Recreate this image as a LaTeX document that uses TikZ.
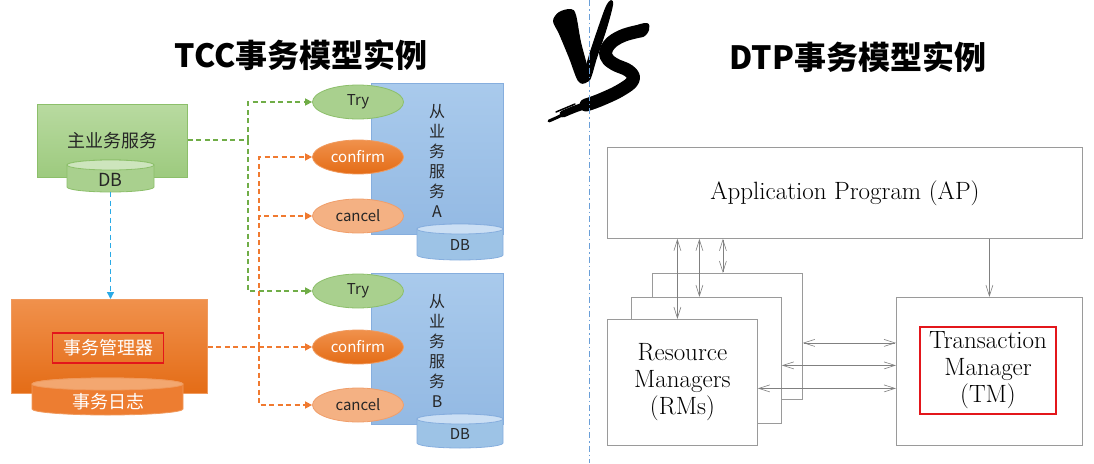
\documentclass[tikz,border=0pt]{standalone}
\usepackage{fontspec}
\newfontfamily\cjk{Noto Sans CJK SC}
\usetikzlibrary{arrows.meta,shapes.geometric,calc}
\definecolor{gfill}{HTML}{A9D08E}
\definecolor{gtop}{HTML}{B8DAA0}
\definecolor{gbot}{HTML}{9DCA7E}
\definecolor{gdraw}{HTML}{8CBF6A}
\definecolor{gline}{HTML}{70AD47}
\definecolor{ofill}{HTML}{ED7D31}
\definecolor{otop}{HTML}{F0914C}
\definecolor{obot}{HTML}{E46C16}
\definecolor{odraw}{HTML}{F09A5E}
\definecolor{oline}{HTML}{F07A30}
\definecolor{olight}{HTML}{F4B183}
\definecolor{olightdraw}{HTML}{F09E6A}
\definecolor{bfill}{HTML}{9DC3E6}
\definecolor{btop}{HTML}{A9CAEC}
\definecolor{bbot}{HTML}{93B9E3}
\definecolor{bdraw}{HTML}{86AEDE}
\definecolor{bline}{HTML}{2AAAE6}
\definecolor{divc}{HTML}{6A9FD8}
\definecolor{mred}{HTML}{E3161B}
\definecolor{gray1}{HTML}{808080}
\definecolor{gray2}{HTML}{9A9A9A}
\newcommand\dbcyl[8]{%
  \pgfmathsetmacro\rxx{(#2-#1)/2}%
  \pgfmathsetmacro\cxx{(#1+#2)/2}%
  \filldraw[fill=#6,draw=#8,line width=0.8pt] (#1,#3) -- (#1,#4)
    arc[start angle=180,end angle=360,x radius=\rxx pt,y radius=#5pt]
    -- (#2,#3) arc[start angle=0,end angle=180,x radius=\rxx pt,y radius=#5pt] -- cycle;
  \filldraw[fill=#7,draw=#8,line width=0.8pt] (\cxx,#3) ellipse[x radius=\rxx pt,y radius=#5pt];
}
\begin{document}
\begin{tikzpicture}[x=1pt,y=-1pt,
  lbl/.style={font=\cjk\fontsize{18}{22}\selectfont},
  sm/.style={font=\cjk\fontsize{15}{18}\selectfont},
  oval/.style={ellipse,minimum width=91pt,minimum height=34pt,inner sep=0pt,line width=0.8pt,sm},
  tryst/.style={oval,fill=gfill,draw=gdraw,text=black!85},
  confst/.style={oval,top color=otop,bottom color=obot,draw=odraw,text=white},
  cancst/.style={oval,fill=olight,draw=olightdraw,text=black!85},
  svcbox/.style={rectangle,minimum width=132pt,minimum height=151pt,top color=btop,bottom color=bbot,draw=bdraw,line width=0.8pt},
  vtext/.style={font=\cjk\fontsize{16}{20}\selectfont,align=center,text=black!85,inner sep=0pt},
  gdash/.style={draw=gline,line width=1.5pt,dash pattern=on 5pt off 3.5pt,-{Triangle[length=7pt,width=7pt]}},
  odash/.style={draw=oline,line width=1.5pt,dash pattern=on 5pt off 3.5pt,-{Triangle[length=7pt,width=7pt]}},
  bdash/.style={draw=bline,line width=1.5pt,dash pattern=on 5pt off 3.5pt,-{Triangle[length=7pt,width=7pt]}},
  rmbox/.style={rectangle,draw=gray2,fill=white,line width=0.8pt,minimum width=150pt,minimum height=126pt},
  serif/.style={font=\fontsize{25}{27}\selectfont\addfontfeatures{FakeBold=1.6},align=center,text=black},
  dbl/.style={draw=gray1,line width=0.6pt,{Straight Barb[length=11pt,width=7pt]}-{Straight Barb[length=11pt,width=7pt]}},
  sgl/.style={draw=gray1,line width=0.6pt,-{Straight Barb[length=11pt,width=7pt]}},
  vsink/.style={line cap=round,line join=round,draw=black}
]
\useasboundingbox (0,0) rectangle (1094,463);

% ---------- titles ----------
\node[font=\cjk\bfseries\fontsize{32}{36}\selectfont] (t1) at (301,55) {TCC事务模型实例};
\node[font=\cjk\bfseries\fontsize{32}{36}\selectfont] (t2) at (858,57) {DTP事务模型实例};

% ---------- VS ----------
\fill[black] plot[smooth cycle,tension=0.55] coordinates {(553,21) (559,12) (571,9) (576,15) (581,42) (589,74) (586,83) (578,81) (569,58) (559,34)};
\fill[black] plot[smooth cycle,tension=0.55] coordinates {(583,79) (589,55) (599,25) (606,6) (611,0) (613,5) (607,28) (597,58) (590,80)};
\draw[vsink,line width=13pt] plot[smooth,tension=0.7] coordinates {(640,31) (622,36) (609,45) (606,56) (614,64) (629,71) (633,80) (621,90) (600,100) (586,105)};
\draw[vsink,line width=7pt] plot[smooth,tension=0.6] coordinates {(590,104) (575,109) (563,114)};
\draw[vsink,line width=3pt] plot[smooth,tension=0.6] coordinates {(568,112) (558,117) (549,121)};
\draw[vsink,line width=1.5pt] (575,104) -- (556,112);
\fill[black] plot[smooth cycle,tension=0.7] coordinates {(634,27) (647,23) (649,30) (643,37) (635,34)};

% ---------- divider ----------
\coordinate (dtop) at (589,0);
\coordinate (dbot) at (589,463);
\draw[divc,line width=1pt,dash pattern=on 6pt off 3pt on 1.5pt off 3pt] (dtop) -- (dbot);

% ---------- left: main service ----------
\node[rectangle,minimum width=150pt,minimum height=73pt,top color=gtop,bottom color=gbot,draw=gdraw,line width=0.8pt,anchor=north west] (main) at (37,104) {};
\node[lbl,text=black!85] (maintxt) at (112,141) {主业务服务};
\dbcyl{67}{154}{165}{187}{5}{gfill}{gtop!70!white}{gdraw}
\node[minimum width=87pt,minimum height=32pt,inner sep=0pt] (db1) at (110.5,176) {};
\node[font=\cjk\fontsize{18}{20}\selectfont,text=black!85] (db1t) at (110.5,180) {DB};

% ---------- left: transaction manager ----------
\node[rectangle,minimum width=196pt,minimum height=94pt,top color=otop,bottom color=obot,draw=odraw,line width=0.8pt,anchor=north west] (mgr) at (11,299) {};
\node[lbl,text=white,draw=mred,line width=1.6pt,minimum width=111pt,minimum height=30pt,inner sep=0pt] (mgrtxt) at (108,348) {事务管理器};
\dbcyl{32}{183}{384}{409}{6}{ofill}{otop!80!white}{odraw}
\node[minimum width=151pt,minimum height=37pt,inner sep=0pt] (log) at (107.5,396.5) {};
\node[lbl,text=white] (logtxt) at (108,402) {事务日志};

% ---------- service A ----------
\node[svcbox,anchor=north west] (svcA) at (371,83) {};
\node[vtext] (svcAt) at (437,161) {从\\业\\务\\服\\务\\A};
\dbcyl{417}{503}{229}{255}{5}{bfill}{btop!60!white}{bdraw}
\node[sm,text=black!85] (dbAt) at (460,245) {DB};

% ---------- service B ----------
\node[svcbox,anchor=north west] (svcB) at (371,273) {};
\node[vtext] (svcBt) at (437,351) {从\\业\\务\\服\\务\\B};
\dbcyl{417}{503}{419}{443}{5}{bfill}{btop!60!white}{bdraw}
\node[sm,text=black!85] (dbBt) at (460,434) {DB};

% ---------- ovals ----------
\node[tryst] (tryA) at (358,102) {Try};
\node[confst] (confA) at (358,157) {confirm};
\node[cancst] (cancA) at (358,216) {cancel};
\node[tryst] (tryB) at (358,291) {Try};
\node[confst] (confB) at (358,347) {confirm};
\node[cancst] (cancB) at (358,405) {cancel};

% ---------- dashed connectors ----------
\coordinate (gj) at (248,140);
\coordinate (oj) at (259,347);
\draw[gdash,-] (main.east |- gj) -- (gj);
\draw[gdash] (gj) |- (tryA.west);
\draw[gdash] (gj) |- (tryB.west);
\draw[odash] (mgr.east |- confB.west) -- (confB.west);
\draw[odash] (oj) |- (confA.west);
\draw[odash] (oj) |- (cancA.west);
\draw[odash] (oj) |- (cancB.west);
\draw[bdash] (db1.south) -- (mgr.north -| db1.south);

% ---------- right: DTP ----------
\node[rectangle,draw=gray2,line width=0.8pt,minimum width=475pt,minimum height=91pt,anchor=north west,serif] (ap) at (607,147) {Application Program (AP)};
\node[rmbox,anchor=north west] (rmB) at (652,273) {};
\node[rmbox,anchor=north west] (rmM) at (631,297) {};
\node[rmbox,anchor=north west,serif] (rmF) at (607,319) {Resource\\Managers\\(RMs)};
\node[rectangle,draw=gray2,line width=0.8pt,minimum width=186pt,minimum height=148pt,anchor=north west] (tm) at (896,297) {};
\node[serif,draw=mred,line width=1.6pt,minimum width=136pt,minimum height=87pt,inner sep=0pt] (tmtxt) at (988,370.5) {Transaction\\Manager\\(TM)};

\draw[dbl] ([xshift=-5pt]rmF.north) -- ([xshift=-5pt]rmF.north |- ap.south);
\draw[dbl] ([xshift=-7pt]rmM.north) -- ([xshift=-7pt]rmM.north |- ap.south);
\draw[dbl] ([xshift=-4.5pt]rmB.north) -- ([xshift=-4.5pt]rmB.north |- ap.south);
\draw[sgl] (ap.south -| tm.north) -- (tm.north);
\draw[dbl] ([yshift=-6.5pt]rmB.east) -- ([yshift=-6.5pt]rmB.east -| tm.west);
\draw[dbl] ([yshift=-5pt]rmM.east) -- ([yshift=-5pt]rmM.east -| tm.west);
\draw[dbl] ([yshift=-6pt]rmF.east) -- ([yshift=-6pt]rmF.east -| tm.west);
\end{tikzpicture}
\end{document}
